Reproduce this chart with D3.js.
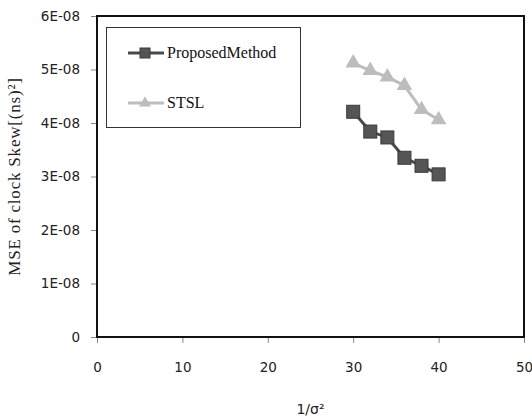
<!DOCTYPE html>
<html>
<head>
<meta charset="utf-8">
<script src="https://cdn.jsdelivr.net/npm/d3@7"></script>
<style>
  body { margin: 0; background: #fff; }
  svg { display: block; }
</style>
</head>
<body>
<div id="chart"></div>
<script>
const xValues = [30, 32, 34, 36, 38, 40];
const proposed = [4.21e-8, 3.84e-8, 3.73e-8, 3.35e-8, 3.20e-8, 3.04e-8];
const stsl = [5.12e-8, 4.98e-8, 4.86e-8, 4.70e-8, 4.25e-8, 4.06e-8];
const xTicks = [0, 10, 20, 30, 40, 50];
const yTicks = [0, 1e-8, 2e-8, 3e-8, 4e-8, 5e-8, 6e-8];
const yTickLabels = ['0', '1E-08', '2E-08', '3E-08', '4E-08', '5E-08', '6E-08'];

const width = 532, height = 417;
const margin = { top: 16, right: 8, bottom: 80, left: 97 };

const svg = d3.select('#chart')
    .append('svg')
    .attr('width', width)
    .attr('height', height);

const x = d3.scaleLinear().domain([0, 50]).range([margin.left, width - margin.right]);
const y = d3.scaleLinear().domain([0, 6e-8]).range([height - margin.bottom, margin.top]);

// axes
const xAxis = svg.append('g')
    .attr('transform', `translate(0,${y(0)})`)
    .call(d3.axisBottom(x).tickValues(xTicks).tickSize(6).tickPadding(19));
const yAxis = svg.append('g')
    .attr('transform', `translate(${x(0)},0)`)
    .call(d3.axisLeft(y).tickValues(yTicks).tickSize(6).tickPadding(11)
        .tickFormat((d, i) => yTickLabels[i]));

[xAxis, yAxis].forEach(g => {
    g.select('.domain').remove();
    g.selectAll('.tick line').attr('stroke', '#888');
    g.selectAll('.tick text')
        .attr('fill', '#222')
        .style('font-family', 'DejaVu Sans, sans-serif')
        .style('font-size', '13.5px');
});

// plot frame
svg.append('rect')
    .attr('x', x(0))
    .attr('y', y(6e-8))
    .attr('width', x(50) - x(0))
    .attr('height', y(0) - y(6e-8))
    .attr('fill', 'none')
    .attr('stroke', '#111')
    .attr('stroke-width', 2);

const line = d3.line()
    .x((d, i) => x(xValues[i]))
    .y(d => y(d));

// STSL
svg.append('path')
    .datum(stsl)
    .attr('d', line)
    .attr('fill', 'none')
    .attr('stroke', '#bdbdbd')
    .attr('stroke-width', 3);

const tri = d3.symbol().type(d3.symbolTriangle).size(105);
svg.selectAll('.tri')
    .data(stsl)
    .enter()
    .append('path')
    .attr('class', 'tri')
    .attr('d', tri)
    .attr('transform', (d, i) => `translate(${x(xValues[i])},${y(d)})`)
    .attr('fill', '#bdbdbd');

// Proposed
svg.append('path')
    .datum(proposed)
    .attr('d', line)
    .attr('fill', 'none')
    .attr('stroke', '#4a4a4a')
    .attr('stroke-width', 3);

svg.selectAll('.sq')
    .data(proposed)
    .enter()
    .append('rect')
    .attr('class', 'sq')
    .attr('x', (d, i) => x(xValues[i]) - 6.5)
    .attr('y', d => y(d) - 6.5)
    .attr('width', 13)
    .attr('height', 13)
    .attr('fill', '#555')
    .attr('stroke', '#3a3a3a')
    .attr('stroke-width', 1);

// legend
const legend = svg.append('g');
legend.append('rect')
    .attr('x', 106.5).attr('y', 27.5)
    .attr('width', 194).attr('height', 100)
    .attr('fill', '#fff')
    .attr('stroke', '#333')
    .attr('stroke-width', 1);

const items = [
    { name: 'Proposed Method', color: '#4a4a4a', mark: 'sq', y: 53 },
    { name: 'STSL', color: '#bdbdbd', mark: 'tri', y: 103 }
];
items.forEach(it => {
    legend.append('line')
        .attr('x1', 128).attr('x2', 164)
        .attr('y1', it.y).attr('y2', it.y)
        .attr('stroke', it.color)
        .attr('stroke-width', 3);
    if (it.mark === 'sq') {
        legend.append('rect')
            .attr('x', 140).attr('y', it.y - 5)
            .attr('width', 10).attr('height', 10)
            .attr('fill', '#555').attr('stroke', '#3a3a3a');
    } else {
        legend.append('path')
            .attr('d', d3.symbol().type(d3.symbolTriangle).size(60))
            .attr('transform', `translate(145,${it.y})`)
            .attr('fill', '#bdbdbd');
    }
    legend.append('text')
        .attr('x', 167).attr('y', it.y + 5)
        .style('font-family', 'Liberation Serif, serif')
        .style('font-size', '16px')
        .style('word-spacing', '-4px')
        .attr('fill', '#111')
        .text(it.name);
});

// axis titles
svg.append('text')
    .attr('x', (x(0) + x(50)) / 2)
    .attr('y', 414)
    .attr('text-anchor', 'middle')
    .style('font-family', 'DejaVu Sans, sans-serif')
    .style('font-size', '14px')
    .attr('fill', '#222')
    .text('1/σ²');

svg.append('text')
    .attr('transform', `translate(20,${(y(0) + y(6e-8)) / 2}) rotate(-90)`)
    .attr('text-anchor', 'middle')
    .style('font-family', 'Liberation Serif, serif')
    .style('font-size', '17px')
    .style('letter-spacing', '0.8px')
    .attr('fill', '#222')
    .text('MSE of clock Skew[(ns)²]');
</script>
</body>
</html>
